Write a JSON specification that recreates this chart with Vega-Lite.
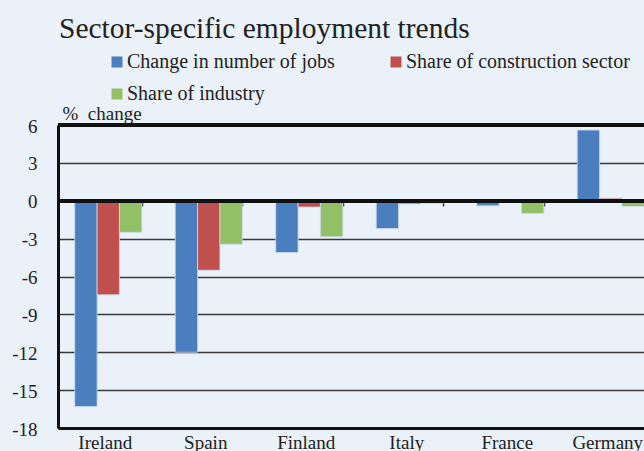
{
  "$schema": "https://vega.github.io/schema/vega-lite/v6.json",
  "autosize": "none",
  "padding": {"left": 58, "top": 125, "right": 0, "bottom": 23},
  "width": 586,
  "height": 303,
  "background": "#eaf1f8",
  "title": {
    "text": "Sector-specific employment trends",
    "anchor": "start",
    "frame": "group",
    "font": "Liberation Serif",
    "fontSize": 29.5,
    "fontWeight": "normal",
    "color": "#222222",
    "baseline": "alphabetic",
    "dx": 1,
    "dy": 15,
    "offset": 0
  },
  "config": {
    "view": {"stroke": null},
    "font": "Liberation Serif",
    "axisY": {
      "titleAngle": 0, "titleAlign": "left", "titleBaseline": "alphabetic",
      "titleX": 4, "titleY": -6,
      "titleFont": "Liberation Serif", "titleFontSize": 19, "titleFontWeight": "normal", "titleColor": "#222222",
      "labelFont": "Liberation Serif", "labelFontSize": 19, "labelColor": "#222222",
      "labelPadding": 21, "labelBaseline": "middle", "labelOffset": 1,
      "labelOverlap": false,
      "ticks": false,
      "domainColor": "#111111", "domainWidth": 3,
      "grid": true, "gridColor": "#3a3a3a", "gridWidth": 1.3
    }
  },
  "data": {
    "values": [
      {"Country": "Ireland", "Series": "Change in number of jobs", "Value": -16.3},
      {"Country": "Ireland", "Series": "Share of construction sector", "Value": -7.45},
      {"Country": "Ireland", "Series": "Share of industry", "Value": -2.5},
      {"Country": "Spain", "Series": "Change in number of jobs", "Value": -12.0},
      {"Country": "Spain", "Series": "Share of construction sector", "Value": -5.5},
      {"Country": "Spain", "Series": "Share of industry", "Value": -3.45},
      {"Country": "Finland", "Series": "Change in number of jobs", "Value": -4.1},
      {"Country": "Finland", "Series": "Share of construction sector", "Value": -0.5},
      {"Country": "Finland", "Series": "Share of industry", "Value": -2.85},
      {"Country": "Italy", "Series": "Change in number of jobs", "Value": -2.2},
      {"Country": "Italy", "Series": "Share of construction sector", "Value": -0.25},
      {"Country": "Italy", "Series": "Share of industry", "Value": -0.2},
      {"Country": "France", "Series": "Change in number of jobs", "Value": -0.4},
      {"Country": "France", "Series": "Share of construction sector", "Value": -0.15},
      {"Country": "France", "Series": "Share of industry", "Value": -1.0},
      {"Country": "Germany", "Series": "Change in number of jobs", "Value": 5.6},
      {"Country": "Germany", "Series": "Share of construction sector", "Value": 0.2},
      {"Country": "Germany", "Series": "Share of industry", "Value": -0.45}
    ]
  },
  "layer": [
    {
      "mark": {"type": "bar", "stroke": "#c9dbef", "strokeWidth": 0.8},
      "encoding": {
        "x": {
          "field": "Country", "type": "nominal", "sort": null,
          "scale": {"range": [0, 603], "paddingInner": 0.333, "paddingOuter": 0.1667},
          "axis": {
            "title": null, "orient": "bottom", "labelAngle": 0,
            "labelFont": "Liberation Serif", "labelFontSize": 19, "labelColor": "#222222",
            "labelPadding": 5, "labelOffset": -3, "ticks": false,
            "domainColor": "#111111", "domainWidth": 3, "grid": false
          }
        },
        "xOffset": {
          "field": "Series", "type": "nominal",
          "sort": ["Change in number of jobs", "Share of construction sector", "Share of industry"],
          "scale": {"paddingInner": 0, "paddingOuter": 0}
        },
        "y": {
          "field": "Value", "type": "quantitative",
          "scale": {"domain": [-18, 6], "nice": false, "zero": false},
          "axis": {
            "title": "%\u00a0 change",
            "values": [-18, -15, -12, -9, -6, -3, 0, 3, 6],
            "labelExpr": "'' + datum.value"
          }
        },
        "color": {
          "field": "Series", "type": "nominal",
          "scale": {
            "domain": ["Change in number of jobs", "Share of construction sector", "Share of industry"],
            "range": ["#4a7ebf", "#c0504d", "#93bf66"]
          },
          "legend": {
            "title": null, "orient": "none", "legendX": 49, "legendY": -73,
            "direction": "horizontal", "columns": 2,
            "columnPadding": 51, "rowPadding": 12, "padding": 0,
            "symbolType": "square", "symbolSize": 121, "symbolStrokeWidth": 0,
            "labelFont": "Liberation Serif", "labelFontSize": 20, "labelColor": "#222222",
            "labelOffset": 0, "labelLimit": 400
          }
        }
      }
    },
    {
      "mark": {"type": "rule", "opacity": 0},
      "encoding": {
        "x": {
          "field": "Country", "type": "nominal", "sort": null,
          "axis": {
            "title": null, "orient": "top", "offset": -81,
            "labels": false, "domain": false, "grid": false,
            "ticks": true, "tickBand": "extent", "tickSize": 6,
            "tickColor": "#333333", "tickWidth": 1.5
          }
        }
      }
    },
    {
      "mark": {"type": "rule", "color": "#111111", "strokeWidth": 3.3},
      "encoding": {
        "y": {"datum": 0, "axis": {"title": "%\u00a0 change", "values": [-18, -15, -12, -9, -6, -3, 0, 3, 6], "labelExpr": "'' + datum.value"}}
      }
    },
    {
      "mark": {"type": "rule", "color": "#111111", "strokeWidth": 3},
      "encoding": {
        "y": {"datum": 6, "axis": {"title": "%\u00a0 change", "values": [-18, -15, -12, -9, -6, -3, 0, 3, 6], "labelExpr": "'' + datum.value"}}
      }
    }
  ],
  "resolve": {"axis": {"x": "independent"}}
}
